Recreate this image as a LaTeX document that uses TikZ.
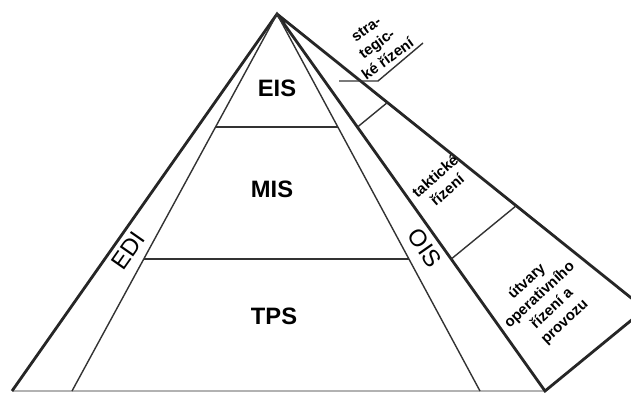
\documentclass[tikz,border=0pt]{standalone}
\usepackage{fontspec}
\setmainfont{Liberation Sans}
\usetikzlibrary{calc}

\begin{document}
\begin{tikzpicture}[x=0.02cm, y=-0.02cm,
    outer/.style={line width=1.6pt, black!85},
    inner/.style={line width=0.8pt, black!80},
    level/.style={font=\fontsize{13.5}{15}\selectfont\bfseries},
    side/.style={font=\fontsize{13.5}{15}\selectfont},
    small/.style={font=\fontsize{8.5}{10.5}\selectfont\bfseries, align=center, inner sep=0pt}]

    \useasboundingbox (0,0) rectangle (631,392);
    \clip (0,0) rectangle (631,392);

    % Corner points
    \coordinate (apex) at (277,14);
    \coordinate (bl) at (12,391);
    \coordinate (bli) at (72,391);
    \coordinate (bri) at (480,391);
    \coordinate (bro) at (545,391);
    \coordinate (tr) at (645,309);

    % Base
    \draw[line width=1pt, black!30] (bl) -- (bro);

    % Pyramid and the management wedge
    \draw[outer] (bl) -- (apex) -- (bro) -- (tr) -- (apex);
    \draw[inner] (bli) -- (apex) -- (bri);

    % Levels
    \foreach \t in {0.3, 0.65} {
        \draw[inner] ($(apex)!\t!(bli)$) -- ($(apex)!\t!(bri)$);
        \draw[inner] ($(apex)!\t!(bro)$) -- ($(apex)!\t!(tr)$);
    }

    \node[level] (eis) at (277,88) {EIS};
    \node[level] (mis) at (272,189) {MIS};
    \node[level] (tps) at (274,316) {TPS};

    % Side bands
    \node[side, rotate=55] (edi) at (128,251) {EDI};
    \node[side, rotate=-55] (ois) at (425,248) {OIS};

    % Management levels
    \node[small, rotate=41] (takt) at (441,183) {taktické\\řízení};
    \node[small, rotate=43] (oper) at (546,302) {útvary\\operativního\\řízení a\\provozu};
    \node[small, rotate=36] (strat) at (377,44) {stra-\\tegic-\\ké řízení};

    % Pointer to the top segment
    \coordinate (ptr) at (339,81);
    \coordinate (knee) at (378,81);
    \coordinate (tip) at (423,43);
    \draw[inner] (ptr) -- (knee) -- (tip);

\end{tikzpicture}
\end{document}
